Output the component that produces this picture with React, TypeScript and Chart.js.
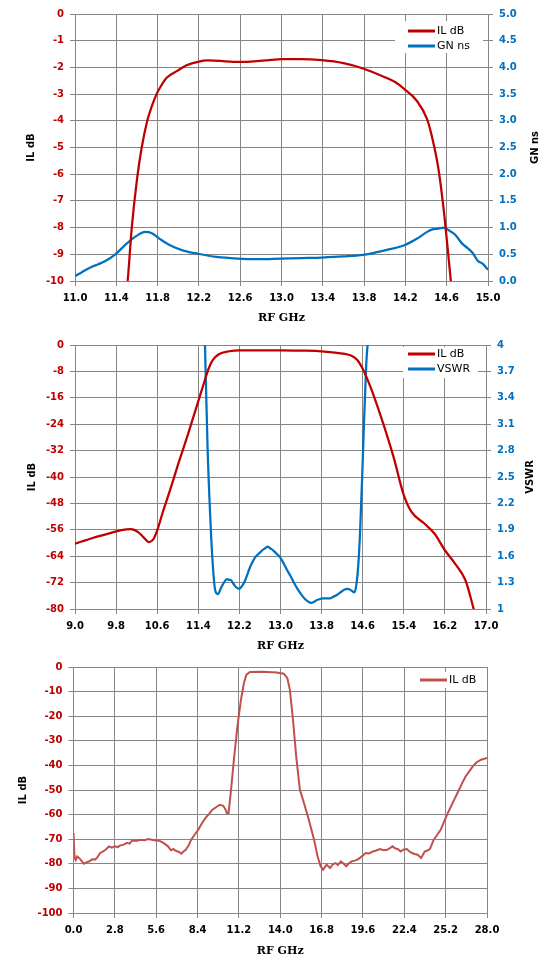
import { useEffect, useRef } from "react"
import { Chart, type ChartConfiguration, type Plugin, registerables } from "chart.js"

Chart.register(...registerables)

// ---- chart 1: IL and group delay, 11-15 GHz ----
const il1Freq = [11.47, 11.51, 11.55, 11.6, 11.646, 11.7, 11.74, 11.79, 11.84, 11.89, 11.99, 12.08, 12.2, 12.28, 12.41, 12.53, 12.66, 12.79, 12.9, 13.0, 13.19, 13.39, 13.6, 13.79, 13.99, 14.1, 14.19, 14.31, 14.41, 14.47, 14.52, 14.57, 14.62, 14.64, 14.67]
const il1Db = [-11.4, -10.0, -8.0, -6.2, -5.0, -4.0, -3.5, -3.0, -2.65, -2.38, -2.13, -1.92, -1.78, -1.74, -1.76, -1.79, -1.79, -1.76, -1.72, -1.69, -1.69, -1.73, -1.84, -2.04, -2.35, -2.55, -2.81, -3.25, -3.94, -4.81, -5.8, -7.3, -9.2, -10.0, -11.2]
const gnFreq = [11.0, 11.07, 11.145, 11.22, 11.29, 11.39, 11.5, 11.6, 11.68, 11.74, 11.82, 11.92, 12.05, 12.19, 12.37, 12.57, 12.79, 12.99, 13.2, 13.39, 13.6, 13.79, 13.99, 14.19, 14.31, 14.41, 14.47, 14.52, 14.57, 14.62, 14.68, 14.75, 14.8, 14.85, 14.9, 14.95, 15.0]
const gnNs = [0.09, 0.17, 0.25, 0.31, 0.37, 0.5, 0.7, 0.85, 0.92, 0.9, 0.79, 0.67, 0.57, 0.51, 0.45, 0.42, 0.41, 0.42, 0.43, 0.44, 0.46, 0.49, 0.57, 0.67, 0.79, 0.92, 0.97, 0.98, 1.0, 0.95, 0.87, 0.7, 0.62, 0.53, 0.38, 0.32, 0.21]

// ---- chart 2: IL and VSWR, 9-17 GHz ----
const il2Freq = [9.0, 9.2, 9.4, 9.6, 9.8, 10.0, 10.09, 10.23, 10.33, 10.44, 10.52, 10.6, 10.71, 10.85, 11.0, 11.2, 11.4, 11.49, 11.6, 11.68, 11.8, 12.0, 12.2, 12.6, 13.0, 13.4, 13.8, 14.1, 14.4, 14.5, 14.6, 14.7, 14.8, 15.0, 15.2, 15.4, 15.55, 15.8, 16.0, 16.2, 16.4, 16.6, 16.69, 16.76, 16.8]
const il2Db = [-60.2, -59.2, -58.2, -57.4, -56.5, -55.9, -55.8, -56.7, -58.2, -59.7, -59.0, -56.2, -50.6, -44, -36.5, -27, -17, -12.5, -7.2, -4.6, -2.8, -1.9, -1.6, -1.6, -1.6, -1.7, -1.9, -2.4, -3.4, -4.6, -7.2, -10.7, -14.7, -23.8, -33.9, -45.5, -50.6, -54.1, -57.2, -62.2, -66.3, -71.3, -75.9, -80, -82]
const vswrFreq = [11.5, 11.53, 11.58, 11.63, 11.68, 11.73, 11.78, 11.85, 11.92, 11.96, 12.0, 12.03, 12.08, 12.13, 12.2, 12.25, 12.3, 12.36, 12.41, 12.46, 12.51, 12.58, 12.65, 12.7, 12.75, 12.8, 12.85, 12.92, 12.99, 13.06, 13.13, 13.2, 13.27, 13.34, 13.41, 13.48, 13.55, 13.6, 13.65, 13.7, 13.75, 13.82, 13.89, 13.96, 14.03, 14.1, 14.17, 14.24, 14.31, 14.38, 14.44, 14.48, 14.52, 14.55, 14.59, 14.62, 14.67, 14.72, 14.75]
const vswrVal = [4.6, 4.0, 2.84, 2.08, 1.52, 1.21, 1.17, 1.25, 1.32, 1.34, 1.33, 1.33, 1.29, 1.25, 1.23, 1.26, 1.31, 1.4, 1.48, 1.54, 1.59, 1.63, 1.67, 1.69, 1.71, 1.69, 1.67, 1.63, 1.59, 1.52, 1.44, 1.37, 1.29, 1.22, 1.16, 1.11, 1.08, 1.07, 1.08, 1.1, 1.11, 1.12, 1.12, 1.12, 1.14, 1.16, 1.19, 1.22, 1.23, 1.21, 1.19, 1.29, 1.55, 1.89, 2.5, 3.03, 3.79, 4.2, 4.6]

// ---- chart 3: wideband IL, 0-28 GHz ----
const il3Freq = [0.0, 0.07, 0.15, 0.24, 0.35, 0.48, 0.6, 0.72, 0.9, 1.09, 1.25, 1.45, 1.6, 1.81, 2.0, 2.17, 2.41, 2.6, 2.78, 3.0, 3.14, 3.4, 3.62, 3.8, 3.98, 4.3, 4.59, 4.8, 5.07, 5.3, 5.55, 5.8, 6.03, 6.2, 6.4, 6.6, 6.76, 6.9, 7.0, 7.15, 7.29, 7.45, 7.6, 7.8, 7.97, 8.2, 8.45, 8.7, 8.93, 9.2, 9.41, 9.65, 9.9, 10.14, 10.3, 10.38, 10.5, 10.67, 10.86, 11.1, 11.34, 11.54, 11.71, 11.95, 12.79, 13.76, 14.24, 14.48, 14.65, 14.84, 15.08, 15.33, 15.57, 15.93, 16.29, 16.53, 16.73, 16.9, 17.14, 17.38, 17.55, 17.75, 17.9, 18.1, 18.3, 18.47, 18.65, 18.83, 19.1, 19.31, 19.55, 19.79, 20.0, 20.27, 20.5, 20.76, 21.0, 21.24, 21.45, 21.6, 21.8, 21.96, 22.15, 22.33, 22.57, 22.75, 22.93, 23.1, 23.3, 23.54, 23.78, 24.0, 24.14, 24.39, 24.6, 24.87, 25.1, 25.35, 25.6, 25.83, 26.1, 26.32, 26.55, 26.8, 27.05, 27.28, 27.6, 28.0]
const il3Db = [-67.5, -77.6, -78.5, -77, -77.5, -78.3, -79.2, -80, -79.3, -79, -78.2, -78.3, -77.5, -75.6, -75, -74.3, -72.9, -73.4, -72.9, -73.2, -72.6, -72.2, -71.5, -71.8, -70.5, -70.6, -70.2, -70.4, -69.9, -70.2, -70.5, -70.6, -71.3, -72, -72.9, -74.5, -74, -74.6, -74.9, -75.2, -75.9, -75, -74.3, -72.5, -70.2, -68.2, -66.1, -63.5, -61.4, -59.6, -58, -57, -56, -56.4, -58, -59.3, -59.3, -49.9, -37.7, -24.1, -13.3, -6.5, -3.1, -2, -1.9, -2.2, -2.7, -4.5, -9.2, -20, -36.3, -49.9, -54.6, -62, -70.2, -77, -81, -82.4, -80.4, -81.7, -80.2, -79.7, -80.5, -79, -80, -81, -79.8, -79, -78.6, -78, -76.8, -75.6, -75.8, -75, -74.6, -74, -74.5, -74.3, -73.5, -72.9, -73.8, -74, -75, -74.3, -74, -75, -75.6, -76, -76.3, -77.6, -75, -74.5, -73.9, -70.2, -68.5, -66.1, -62.8, -59.3, -56.2, -53.3, -50, -47.2, -44.5, -42.4, -40.3, -38.8, -37.7, -37]

const RED = "#c00000"
const BLUE = "#0070c0"
const SOFT_RED = "#c0504d"
const GRID = "#868686"
const TICK_FONT = { family: "DejaVu Sans", size: 10, weight: "bold" as const }
const TITLE_FONT = { family: "DejaVu Sans", size: 10, weight: "bold" as const }

const pts = (xs: number[], ys: number[]) => xs.map((x, i) => ({ x, y: ys[i] }))

// white legend box drawn inside the plot, over the grid
const legendBox: Plugin = {
  id: "legendBox",
  afterDatasetsDraw(chart, _args, opts: any) {
    if (!opts || !opts.width) return
    const { ctx, chartArea } = chart
    const left = chartArea.right - opts.right - opts.width
    const top = chartArea.top + opts.top
    ctx.save()
    ctx.fillStyle = "#ffffff"
    ctx.fillRect(left, top, opts.width, opts.height)
    ctx.font = "11px 'DejaVu Sans'"
    ctx.textBaseline = "middle"
    ctx.textAlign = "left"
    chart.data.datasets.forEach((ds: any, i) => {
      const y = top + opts.firstRow + i * 15
      const x0 = left + opts.indent
      ctx.strokeStyle = ds.borderColor
      ctx.lineWidth = 3
      ctx.beginPath()
      ctx.moveTo(x0, y)
      ctx.lineTo(x0 + 27, y)
      ctx.stroke()
      ctx.fillStyle = "#000000"
      ctx.fillText(ds.label, x0 + 29, y + 0.5)
    })
    ctx.restore()
  },
}

// secondary axis title, rotated the same way as the left one
const rightTitle: Plugin = {
  id: "rightTitle",
  afterDraw(chart, _args, opts: any) {
    if (!opts || !opts.text) return
    const { ctx, chartArea } = chart
    ctx.save()
    ctx.translate(opts.x, (chartArea.top + chartArea.bottom) / 2)
    ctx.rotate(-Math.PI / 2)
    ctx.font = "bold 10px 'DejaVu Sans'"
    ctx.fillStyle = "#000000"
    ctx.textAlign = "center"
    ctx.textBaseline = "middle"
    ctx.fillText(opts.text, 0, 0)
    ctx.restore()
  },
}

function xAxis(min: number, max: number, step: number, height: number, titlePad: number) {
  return {
    type: "linear" as const,
    min,
    max,
    ticks: {
      stepSize: step,
      autoSkip: false,
      maxRotation: 0,
      color: "#000000",
      font: TICK_FONT,
      padding: 6,
      callback: (v: any) => Number(v).toFixed(1),
    },
    grid: { color: GRID, lineWidth: 1, tickLength: 5 },
    border: { color: GRID },
    title: {
      display: true,
      text: "RF GHz",
      color: "#000000",
      font: { family: "DejaVu Serif", size: 11, weight: "bold" as const },
      padding: { top: 0, bottom: titlePad },
    },
    afterFit: (s: any) => {
      s.height = height
    },
  }
}

function leftAxis(min: number, max: number, step: number, width: number, titlePad: number) {
  return {
    type: "linear" as const,
    position: "left" as const,
    min,
    max,
    ticks: { stepSize: step, color: RED, font: TICK_FONT, padding: 6 },
    grid: { color: GRID, lineWidth: 1, tickLength: 5 },
    border: { color: GRID },
    title: { display: true, text: "IL dB", color: "#000000", font: TITLE_FONT, padding: { top: titlePad, bottom: 0 } },
    afterFit: (s: any) => {
      s.width = width
    },
  }
}

function rightAxis(min: number, max: number, step: number, width: number, fmt: (v: number) => string) {
  return {
    type: "linear" as const,
    position: "right" as const,
    min,
    max,
    ticks: { stepSize: step, color: BLUE, font: TICK_FONT, padding: 6, callback: (v: any) => fmt(Number(v)) },
    grid: { drawOnChartArea: false, color: GRID, lineWidth: 1, tickLength: 5 },
    border: { color: GRID },
    afterFit: (s: any) => {
      s.width = width
    },
  }
}

function makeChart1(): ChartConfiguration {
  return {
    type: "line",
    data: {
      datasets: [
        { label: "IL dB", data: pts(il1Freq, il1Db), borderColor: RED, borderWidth: 2.25, pointRadius: 0, cubicInterpolationMode: "monotone", yAxisID: "y" },
        { label: "GN ns", data: pts(gnFreq, gnNs), borderColor: BLUE, borderWidth: 2.25, pointRadius: 0, cubicInterpolationMode: "monotone", yAxisID: "y1" },
      ],
    },
    options: {
      animation: false,
      responsive: true,
      maintainAspectRatio: false,
      layout: { padding: { top: 14, left: 0, right: 0, bottom: 0 } },
      plugins: {
        legend: { display: false },
        tooltip: { enabled: false },
        legendBox: { right: 5, top: 7, width: 88, height: 32, indent: 13, firstRow: 10 },
        rightTitle: { text: "GN ns", x: 535 },
      } as any,
      scales: {
        x: xAxis(11, 15, 0.4, 49, 5),
        y: leftAxis(-10, 0, 1, 75, 25),
        y1: rightAxis(0, 5, 0.5, 68, (v) => v.toFixed(1)),
      } as any,
    },
    plugins: [legendBox, rightTitle],
  }
}

function makeChart2(): ChartConfiguration {
  return {
    type: "line",
    data: {
      datasets: [
        { label: "IL dB", data: pts(il2Freq, il2Db), borderColor: RED, borderWidth: 2.25, pointRadius: 0, cubicInterpolationMode: "monotone", yAxisID: "y" },
        { label: "VSWR", data: pts(vswrFreq, vswrVal), borderColor: BLUE, borderWidth: 2.25, pointRadius: 0, cubicInterpolationMode: "monotone", yAxisID: "y1" },
      ],
    },
    options: {
      animation: false,
      responsive: true,
      maintainAspectRatio: false,
      layout: { padding: { top: 15, left: 0, right: 0, bottom: 0 } },
      plugins: {
        legend: { display: false },
        tooltip: { enabled: false },
        legendBox: { right: 8, top: 2, width: 75, height: 31, indent: 5, firstRow: 7 },
        rightTitle: { text: "VSWR", x: 530 },
      } as any,
      scales: {
        x: xAxis(9, 17, 0.8, 51, 7),
        y: leftAxis(-80, 0, 8, 75, 26),
        y1: rightAxis(1, 4, 0.3, 70, (v) => String(Math.round(v * 10) / 10)),
      } as any,
    },
    plugins: [legendBox, rightTitle],
  }
}

function makeChart3(): ChartConfiguration {
  return {
    type: "line",
    data: {
      datasets: [
        { label: "IL dB", data: pts(il3Freq, il3Db), borderColor: SOFT_RED, borderWidth: 2, pointRadius: 0, tension: 0, yAxisID: "y" },
      ],
    },
    options: {
      animation: false,
      responsive: true,
      maintainAspectRatio: false,
      layout: { padding: { top: 12, left: 0, right: 69, bottom: 0 } },
      plugins: {
        legend: { display: false },
        tooltip: { enabled: false },
        legendBox: { right: 6, top: 5, width: 66, height: 16, indent: 5, firstRow: 8 },
      } as any,
      scales: {
        x: xAxis(0, 28, 2.8, 63, 18),
        y: leftAxis(-100, 0, 10, 73.5, 17),
      } as any,
    },
    plugins: [legendBox],
  }
}

function Panel({ make, top, height }: { make: () => ChartConfiguration; top: number; height: number }) {
  const canvasRef = useRef<HTMLCanvasElement>(null)

  useEffect(() => {
    if (!canvasRef.current) return
    const chart = new Chart(canvasRef.current, make())
    return () => chart.destroy()
  }, [make])

  return (
    <div style={{ position: "absolute", left: 0, top, width: 556, height }}>
      <canvas ref={canvasRef} />
    </div>
  )
}

export default function App() {
  return (
    <div style={{ position: "absolute", left: 0, top: 0, width: 556, height: 976, background: "#ffffff" }}>
      <Panel make={makeChart1} top={0} height={330} />
      <Panel make={makeChart2} top={330} height={330} />
      <Panel make={makeChart3} top={655} height={321} />
    </div>
  )
}
